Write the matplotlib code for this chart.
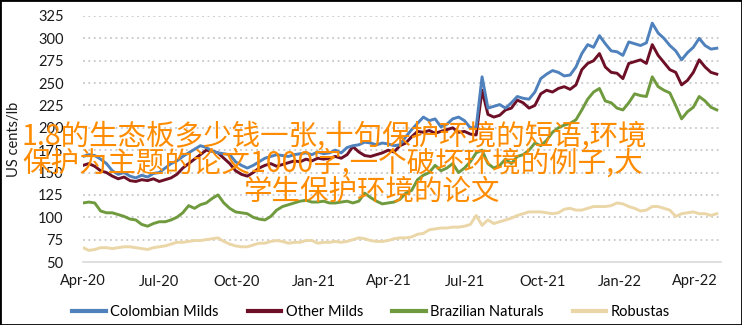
import numpy as np
import pandas as pd
import matplotlib
matplotlib.use('Agg')
import matplotlib.pyplot as plt
import matplotlib.dates as mdates
from matplotlib.patches import Rectangle

# weekly ICO group indicator prices, US cents/lb
dates = pd.date_range('2020-04-01', periods=109, freq='7D')

colombian_milds = [
    168, 170, 169, 165, 160, 152, 148, 150, 146, 144, 147, 145, 149, 150, 155, 160, 163, 168, 172, 176,
    180, 178, 174, 172, 171, 170, 162, 158, 155, 158, 162, 166, 168, 170, 169, 168, 170, 171, 172, 170,
    173, 171, 172, 175, 172, 178, 180, 181, 184, 183, 181, 183, 182, 180, 181, 190, 198, 205, 212, 208,
    210, 201, 204, 210, 212, 208, 200, 201, 257, 222, 224, 226, 222, 228, 235, 233, 232, 240, 255, 260,
    264, 262, 258, 259, 268, 283, 293, 290, 303, 294, 286, 285, 281, 296, 294, 292, 295, 317, 306, 300,
    292, 286, 276, 284, 290, 300, 292, 288, 289]

other_milds = [
    158, 160, 157, 152, 150, 146, 143, 145, 141, 140, 142, 141, 143, 140, 142, 144, 148, 155, 160, 165,
    170, 175, 174, 172, 166, 160, 152, 148, 146, 150, 155, 158, 160, 157, 159, 161, 163, 162, 165, 163,
    166, 165, 166, 168, 166, 170, 179, 173, 169, 168, 170, 172, 175, 173, 180, 183, 190, 196, 195, 197,
    194, 196, 198, 200, 195, 196, 193, 192, 242, 215, 212, 214, 220, 222, 231, 228, 222, 225, 238, 242,
    240, 244, 246, 243, 248, 265, 272, 275, 283, 268, 262, 261, 255, 272, 274, 276, 272, 293, 281, 273,
    265, 262, 248, 253, 262, 276, 268, 262, 260]

brazilian_naturals = [
    116, 117, 116, 107, 105, 105, 103, 101, 98, 97, 92, 90, 93, 95, 95, 97, 100, 105, 113, 110,
    114, 116, 121, 125, 116, 110, 106, 105, 104, 100, 98, 97, 101, 108, 112, 114, 116, 118, 119, 117,
    117, 118, 116, 116, 117, 118, 116, 118, 127, 122, 118, 115, 116, 117, 120, 127, 130, 142, 147, 150,
    158, 152, 155, 160, 150, 155, 162, 172, 175, 160, 155, 158, 165, 160, 168, 170, 175, 183, 180, 186,
    195, 200, 203, 205, 209, 220, 232, 240, 244, 230, 228, 222, 220, 228, 238, 236, 235, 257, 246, 242,
    239, 225, 210, 218, 223, 235, 230, 223, 220]

robustas = [
    66, 63, 64, 66, 66, 65, 66, 67, 67, 66, 65, 64, 66, 67, 68, 70, 72, 72, 73, 74,
    74, 75, 76, 77, 73, 70, 68, 67, 67, 69, 71, 71, 73, 74, 73, 71, 72, 72, 74, 74,
    71, 72, 72, 73, 72, 73, 75, 77, 76, 74, 73, 73, 74, 76, 77, 77, 78, 81, 82, 86,
    87, 88, 88, 89, 89, 90, 92, 102, 91, 97, 93, 95, 97, 99, 102, 104, 106, 106, 106, 105,
    104, 105, 109, 110, 108, 108, 110, 112, 112, 112, 113, 116, 115, 112, 110, 107, 108, 112, 112, 110,
    108, 101, 104, 105, 106, 104, 104, 102, 104]

series = [
    ('Colombian Milds', colombian_milds, '#4f81bd'),
    ('Other Milds', other_milds, '#6d0f26'),
    ('Brazilian Naturals', brazilian_naturals, '#6f9a3e'),
    ('Robustas', robustas, '#ebd6a8'),
]

overlay_lines = [
    '1.8的生态板多少钱一张,十句保护环境的短语,环境',
    '保护为主题的论文1000字,一个破坏环境的例子,大',
    '学生保护环境的论文',
]

plt.rcParams['font.family'] = ['Lato', 'DejaVu Sans']

W, H = 742, 325
fig = plt.figure(figsize=(W / 100, H / 100), dpi=100)
ax = fig.add_axes([83 / W, 1 - 262 / H, (721 - 83) / W, (262 - 16) / H])

# draw Robustas first so the others sit on top
for name, vals, col in reversed(series):
    ax.plot(dates, vals, color=col, lw=2.1, label=name, solid_joinstyle='round')

ax.set_ylim(50, 325)
ax.set_xlim(pd.Timestamp('2020-04-01'), pd.Timestamp('2022-05-02'))
ax.set_yticks(np.arange(50, 326, 25))
ax.xaxis.set_major_locator(mdates.MonthLocator(bymonth=[1, 4, 7, 10]))
ax.xaxis.set_major_formatter(mdates.DateFormatter('%b-%y'))

for s in ['top', 'right', 'left']:
    ax.spines[s].set_visible(False)
ax.spines['bottom'].set_color('#d9d9d9')
ax.spines['bottom'].set_linewidth(1.2)
ax.tick_params(length=0, labelsize=10.5, colors='#1a1a1a')
ax.tick_params(axis='x', pad=9)
ax.tick_params(axis='y', pad=14)
for v in range(75, 326, 25):
    ax.axhline(v, color='#c8c8c8', lw=1.3, ls=(0, (1, 2)), zorder=0)

fig.text(14 / W, 1 - 139 / H, 'US cents/lb', rotation=90, ha='center', va='center',
         fontsize=10.5, color='#1a1a1a')

handles, labels = ax.get_legend_handles_labels()
leg = fig.legend(handles[::-1], labels[::-1], loc='center', bbox_to_anchor=(0.5, 1 - 312 / H),
                 ncol=4, frameon=False, fontsize=10.5, handlelength=2.3, handletextpad=0.3,
                 columnspacing=2.0)
for ln in leg.get_lines():
    ln.set_linewidth(3)

# orange caption text laid over the chart
cjk = ['Noto Sans CJK SC', 'DejaVu Sans']
fig.text(22 / W, 1 - 137 / H, overlay_lines[0], family=cjk, fontsize=20.5, color='#ff8c00',
         ha='left', va='center')
fig.text(22 / W, 1 - 164 / H, overlay_lines[1], family=cjk, fontsize=20.5, color='#ff8c00',
         ha='left', va='center')
fig.text(372 / W, 1 - 192 / H, overlay_lines[2], family=cjk, fontsize=20.5, color='#ff8c00',
         ha='center', va='center')

fig.patches.append(Rectangle((0, 0), 1, 1, transform=fig.transFigure, fill=False,
                             edgecolor='black', lw=2, zorder=10))

fig.savefig('out.png', dpi=100)
